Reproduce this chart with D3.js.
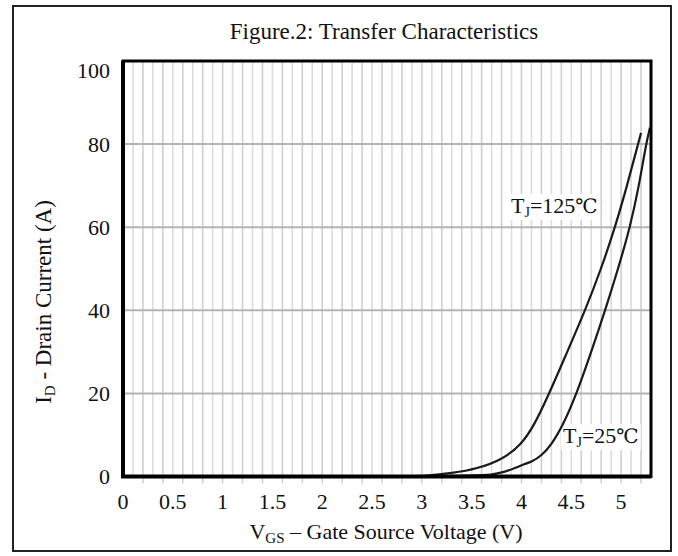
<!DOCTYPE html>
<html>
<head>
<meta charset="utf-8">
<script src="https://cdn.jsdelivr.net/npm/d3@7"></script>
<style>
  html, body { margin: 0; padding: 0; background: #fff; }
  svg { display: block; }
  text { font-family: "Liberation Serif", "Times New Roman", serif; fill: #111; }
</style>
</head>
<body>
<svg id="chart" width="678" height="556"></svg>
<script>
// ---- data ----
const xTicks = [0, 0.5, 1, 1.5, 2, 2.5, 3, 3.5, 4, 4.5, 5];
const xTickLabels = ["0", "0.5", "1", "1.5", "2", "2.5", "3", "3.5", "4", "4.5", "5"];
const yTicks = [0, 20, 40, 60, 80, 100];
const yTickLabels = ["0", "20", "40", "60", "80", "100"];

// T_J = 125 ℃  : V_GS (V) and I_D (A)
const vgs125 = [0, 2.8, 3.05, 3.3, 3.55, 3.82, 4.0, 4.12, 4.27, 4.45, 4.64, 4.8, 4.94, 5.06, 5.17, 5.2];
const id125  = [0, 0,   0.15, 0.8, 1.8,  4.2,  7.8, 12,   19.5, 29.5, 40,   50,  60,   70,   80,   82.7];
// T_J = 25 ℃
const vgs25 = [0, 3.5, 3.7, 3.85, 3.95, 4.03, 4.1, 4.2, 4.3, 4.42, 4.555, 4.7, 4.84, 4.97, 5.09, 5.18, 5.25, 5.29];
const id25  = [0, 0,   0.4, 1.2,  2.2,  3.0,  3.5, 5.0, 7.6, 12.5, 20,    30,  40,   50,   60,   70,   80,   84];

(function () {
// ---- layout ----
const svg = d3.select("#chart");
const pL = 123, pR = 651, pT = 61, pB = 476.5;
const FS = 22;
const x = d3.scaleLinear().domain([0, 5.3]).range([pL, pR]);
const y = d3.scaleLinear().domain([0, 100]).range([pB, pT]);

// outer frame
svg.append("rect").attr("x", 13).attr("y", 6).attr("width", 658).attr("height", 545)
  .attr("fill", "#fff").attr("stroke", "#222").attr("stroke-width", 2);

// title
svg.append("text").attr("x", 384).attr("y", 39).attr("text-anchor", "middle")
  .attr("font-size", 23).text("Figure.2: Transfer Characteristics");

// vertical grid every 0.1 V
const vGrid = d3.range(1, 53).map(i => i / 10);
svg.append("g").selectAll("line").data(vGrid).join("line")
  .attr("x1", d => x(d)).attr("x2", d => x(d))
  .attr("y1", pT).attr("y2", pB)
  .attr("stroke", (d, i) => i % 2 === 0 ? "#dcdcdc" : "#cfcfcf").attr("stroke-width", 1.6);

// small ticks below the axis
const bTicks = d3.range(1, 27).map(i => i / 5);
svg.append("g").selectAll("line").data(bTicks).join("line")
  .attr("x1", d => x(d)).attr("x2", d => x(d))
  .attr("y1", pB).attr("y2", pB + 7)
  .attr("stroke", "#d0d0d0").attr("stroke-width", 1.5);

// horizontal grid
svg.append("g").selectAll("line").data(yTicks.filter(v => v > 0 && v < 100)).join("line")
  .attr("x1", pL).attr("x2", pR)
  .attr("y1", d => y(d)).attr("y2", d => y(d))
  .attr("stroke", "#b4b4b4").attr("stroke-width", 2);

// annotation layer (backgrounds drawn over grid, under curves)
const bgLayer = svg.append("g");

// curves
const line = d3.line().x(d => x(d[0])).y(d => y(d[1])).curve(d3.curveBasis);
const s125 = vgs125.map((v, i) => [v, id125[i]]);
const s25 = vgs25.map((v, i) => [v, id25[i]]);
[s125, s25].forEach(s => {
  svg.append("path").datum(s).attr("d", line)
    .attr("fill", "none").attr("stroke", "#1a1a1a").attr("stroke-width", 2.2);
});

// plot border
svg.append("rect").attr("x", pL).attr("y", pT).attr("width", pR - pL).attr("height", pB - pT)
  .attr("fill", "none").attr("stroke", "#000").attr("stroke-width", 3);
svg.append("line").attr("x1", pL).attr("x2", pL).attr("y1", pT).attr("y2", pB)
  .attr("stroke", "#000").attr("stroke-width", 4);
svg.append("line").attr("x1", pL - 2).attr("x2", pR).attr("y1", pB).attr("y2", pB)
  .attr("stroke", "#000").attr("stroke-width", 4);

// y tick labels
svg.append("g").selectAll("text").data(yTicks).join("text")
  .attr("x", 110).attr("y", d => Math.max(y(d), pT + 9))
  .attr("dy", "0.35em").attr("text-anchor", "end").attr("font-size", FS)
  .text((d, i) => yTickLabels[i]);

// x tick labels
svg.append("g").selectAll("text").data(xTicks).join("text")
  .attr("x", d => x(d)).attr("y", 509)
  .attr("text-anchor", "middle").attr("font-size", FS)
  .text((d, i) => xTickLabels[i]);

// x axis title
const xt = svg.append("text").attr("x", 386).attr("y", 539).attr("text-anchor", "middle").attr("font-size", FS);
xt.append("tspan").text("V");
xt.append("tspan").attr("font-size", 15).attr("dy", 4).text("GS");
xt.append("tspan").attr("dy", -4).text(" \u2013 Gate Source Voltage (V)");

// y axis title
const yt = svg.append("text").attr("transform", "translate(51,302) rotate(-90)")
  .attr("text-anchor", "middle").attr("font-size", 23);
yt.append("tspan").text("I");
yt.append("tspan").attr("font-size", 15).attr("dy", 4).text("D");
yt.append("tspan").attr("dy", -4).text(" - Drain Current (A)");

// annotations
function label(xp, yp, num) {
  const t = svg.append("text").attr("x", xp).attr("y", yp).attr("font-size", FS);
  t.append("tspan").text("T");
  t.append("tspan").attr("font-size", 14).attr("dy", 4).text("J");
  t.append("tspan").attr("dy", -4).text("=" + num);
  t.append("tspan").style("font-family", "'DejaVu Serif', 'Liberation Serif', serif")
    .attr("font-size", 20).text("\u2103");
  const b = t.node().getBBox();
  bgLayer.append("rect").attr("x", b.x - 2).attr("y", b.y + 1).attr("width", b.width + 4).attr("height", b.height - 1)
    .attr("fill", "#fff");
}
label(511, 213, "125");
label(563, 443, "25");
})();
</script>
</body>
</html>
